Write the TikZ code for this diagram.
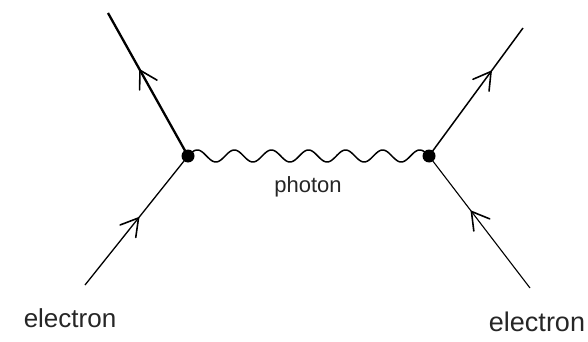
\documentclass[tikz,border=0pt]{standalone}
\usepackage{fontspec}
\setmainfont{Liberation Sans}
\usetikzlibrary{decorations.markings,backgrounds}
\tikzset{
  vertexdot/.style={circle,fill=black,inner sep=0pt,minimum size=13pt},
  fermion/.style={draw=black,line width=1.3pt,postaction={decorate},
    decoration={markings,mark=at position #1 with {
      \draw[line width=1.6pt,line join=round,line cap=round,solid]
        (-17pt,10pt) -- (0pt,0pt) -- (-17pt,-10pt);}}},
  photonline/.style={draw=black,line width=1.5pt,line join=round},
  lbl/.style={inner sep=0pt,font=\fontsize{22}{24}\selectfont,text=black!85}
}
\begin{document}
\begin{tikzpicture}[x=1pt,y=-1pt]
\useasboundingbox (0,0) rectangle (588,342);
\node[vertexdot] (L) at (188,156) {};
\node[vertexdot] (R) at (429,156) {};
\coordinate (TL) at (108,13);
\coordinate (BL) at (85,285);
\coordinate (TR) at (523,28);
\coordinate (BR) at (530,288);
\begin{scope}[on background layer]
\fill[white] (0,0) rectangle (588,342);
\draw[photonline] plot[domain=0:241,samples=240]
  ([shift={(L.center)}]\x,{-6*sin(\x*9.70954)}) -- (R.center);
\draw[fermion=0.52] (BL) -- (L.center);
\draw[fermion=0.6, line width=2.3pt] (L.center) -- (TL);
\draw[fermion=0.66, line width=1.5pt] (R.center) -- (TR);
\draw[fermion=0.58, line width=1.1pt] (BR) -- (R.center);
\end{scope}
\node[lbl] (ph) at (308,187) {photon};
\node[lbl,font=\fontsize{26}{28}\selectfont] (el) at (70,318) {electron};
\node[lbl,font=\fontsize{27}{29}\selectfont] (er) at (537,322) {electron};
\end{tikzpicture}
\end{document}
